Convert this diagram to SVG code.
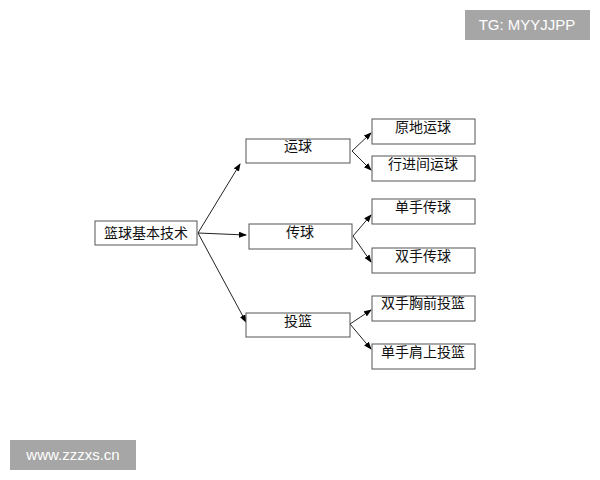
<svg xmlns="http://www.w3.org/2000/svg" width="600" height="480" viewBox="0 0 600 480">
<defs><marker id="a" markerWidth="8" markerHeight="6" refX="7" refY="3" orient="auto" markerUnits="userSpaceOnUse"><path d="M0,0 L8,3 L0,6 z" fill="#000"/></marker>
<style>
.b{fill:#fff;stroke:#555;stroke-width:1}
.t{font-family:"Liberation Serif","Noto Sans CJK SC",serif;font-size:14px;fill:#111;text-anchor:middle}
.c{stroke:#222;stroke-width:1;fill:none;marker-end:url(#a)}
.w{font-family:"Liberation Sans",sans-serif;font-size:15px;fill:#fff;text-anchor:middle}
</style></defs>
<rect width="600" height="480" fill="#fff"/>
<g id="connectors">
<line class="c" x1="198" y1="233" x2="240" y2="164"/>
<line class="c" x1="198" y1="233" x2="246" y2="235"/>
<line class="c" x1="198" y1="233" x2="246" y2="322"/>
<line class="c" x1="352" y1="151" x2="371" y2="133"/>
<line class="c" x1="352" y1="151" x2="371" y2="170"/>
<line class="c" x1="353" y1="236" x2="371" y2="215"/>
<line class="c" x1="353" y1="236" x2="371" y2="262"/>
<line class="c" x1="350" y1="324" x2="371" y2="310"/>
<line class="c" x1="350" y1="324" x2="371" y2="349"/>
</g>
<g id="root"><rect class="b" x="95" y="221" width="102" height="24"/><text class="t" x="146" y="238">篮球基本技术</text></g>
<g id="n1"><rect class="b" x="246" y="139" width="104" height="24"/><text class="t" x="298" y="151">运球</text></g>
<g id="n2"><rect class="b" x="249" y="224" width="103" height="25"/><text class="t" x="300" y="237">传球</text></g>
<g id="n3"><rect class="b" x="246" y="313" width="104" height="24"/><text class="t" x="298" y="326">投篮</text></g>
<g id="l1"><rect class="b" x="372" y="119" width="103" height="25"/><text class="t" x="423" y="132">原地运球</text></g>
<g id="l2"><rect class="b" x="372" y="156" width="103" height="25"/><text class="t" x="423" y="169">行进间运球</text></g>
<g id="l3"><rect class="b" x="372" y="199" width="103" height="25"/><text class="t" x="423" y="212">单手传球</text></g>
<g id="l4"><rect class="b" x="372" y="248" width="103" height="25"/><text class="t" x="423" y="261">双手传球</text></g>
<g id="l5"><rect class="b" x="372" y="296" width="103" height="25"/><text class="t" x="423" y="308">双手胸前投篮</text></g>
<g id="l6"><rect class="b" x="372" y="344" width="103" height="25"/><text class="t" x="423" y="357">单手肩上投篮</text></g>
<g id="wm1"><rect x="465" y="10" width="125" height="30" fill="#a6a6a6"/><text class="w" x="527" y="30">TG: MYYJJPP</text></g>
<g id="wm2"><rect x="10" y="440" width="126" height="30" fill="#a6a6a6"/><text class="w" x="73" y="460">www.zzzxs.cn</text></g>
</svg>
